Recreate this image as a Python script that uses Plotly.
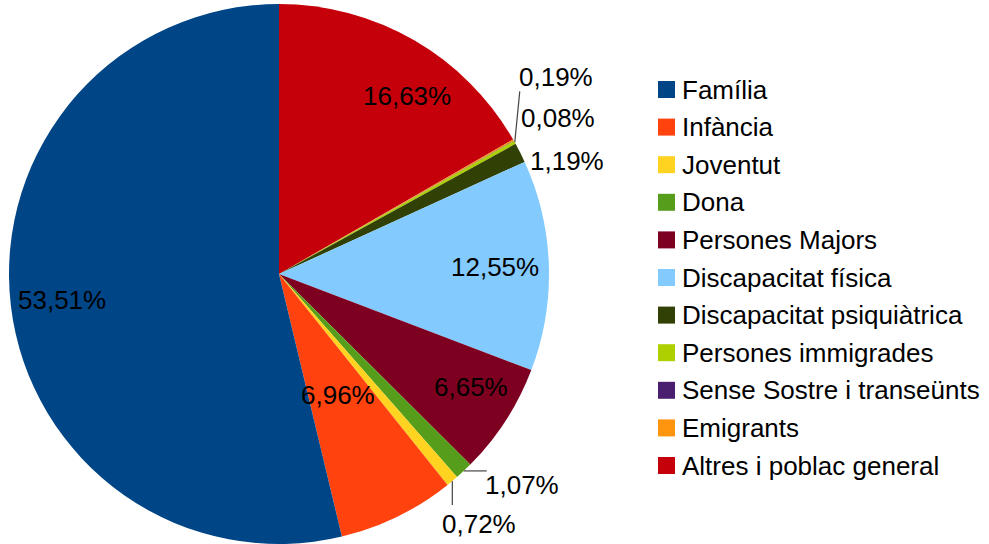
import math
import plotly.graph_objects as go

# ---- data ----
categories = ["Família", "Infància", "Joventut", "Dona", "Persones Majors",
              "Discapacitat física", "Discapacitat psiquiàtrica", "Persones immigrades",
              "Sense Sostre i transeünts", "Emigrants", "Altres i poblac general"]
values = [53.51, 6.96, 0.72, 1.07, 6.65, 12.55, 1.19, 0.19, 0.02, 0.08, 16.63]
show_label = [True, True, True, True, True, True, True, True, False, True, True]

colors = ["#004586", "#ff420e", "#ffd320", "#579d1c", "#7e0021", "#83caff",
          "#314004", "#aecf00", "#4b1f6f", "#ff950e", "#c5000b"]

# ---- layout constants (pixels) ----
W, H = 989, 544
CX, CY, R = 279, 274, 270
FONT = "Liberation Sans, Arial, sans-serif"
FS = 26

# label style per slice: (radius factor, dx, dy, leader end offset or None)
label_style = [
    (0.81, 0, 0, None),
    (0.50, 0, 0, None),
    (1.0, 27, 43, (0, 24)),     # Joventut, leader down
    (1.0, 58, 14, (23, 0)),     # Dona, leader right
    (0.81, 8, -6, None),
    (0.80, 0, 0, None),
    (1.0, 47, 8, None),
    (1.0, 41, -65, (5, -51)),   # immigrades, leader up
    (1.0, 0, 0, None),
    (1.0, 45, -22, None),       # Emigrants
    (0.81, 18, 11, None),
]

def px2paper(x, y):
    return x / W, 1 - y / H

fig = go.Figure()
# reference runs clockwise from 12 o'clock starting with the last category
fig.add_trace(go.Pie(
    labels=categories[::-1], values=values[::-1], sort=False, direction="clockwise",
    rotation=0, marker=dict(colors=colors[::-1], line=dict(width=0)),
    textinfo="none", showlegend=False,
    domain=dict(x=[(CX - R) / W, (CX + R) / W], y=[0, 1 - (CY - R) / H]),
))

total = sum(values)
annotations = []
shapes = []
cum = 0.0
for i, v in enumerate(values):
    mid = (cum + v / 2) / total
    cum += v
    if not show_label[i]:
        continue
    th = 2 * math.pi * mid
    rf, dx, dy, lead = label_style[i]
    rx = CX - rf * R * math.sin(th)
    ry = CY - rf * R * math.cos(th)
    txt = f"{v:.2f}".replace(".", ",") + "%"
    if lead is not None:
        rimx = CX - R * math.sin(th)
        rimy = CY - R * math.cos(th)
        x0, y0 = px2paper(rimx, rimy)
        x1, y1 = px2paper(rimx + lead[0], rimy + lead[1])
        shapes.append(dict(type="line", xref="paper", yref="paper", x0=x0, y0=y0,
                           x1=x1, y1=y1, line=dict(color="#444444", width=1.2)))
    ax, ay = px2paper(rx + dx, ry + dy)
    annotations.append(dict(x=ax, y=ay, xref="paper", yref="paper", text=txt,
                            showarrow=False, xanchor="center", yanchor="middle",
                            font=dict(family=FONT, size=FS, color="black")))

# ---- manual legend ----
LX, LY0, LSTEP, SQ = 658, 89.5, 37.6, 17
for i, (name, c) in enumerate(zip(categories, colors)):
    yc = LY0 + i * LSTEP
    x0, y0 = px2paper(LX, yc + SQ / 2)
    x1, y1 = px2paper(LX + SQ, yc - SQ / 2)
    shapes.append(dict(type="rect", xref="paper", yref="paper", x0=x0, y0=y0,
                       x1=x1, y1=y1, fillcolor=c, line=dict(width=0)))
    tx, ty = px2paper(LX + 22, yc)
    annotations.append(dict(x=tx, y=ty, xref="paper", yref="paper", text=name,
                            showarrow=False, xanchor="left", yanchor="middle",
                            font=dict(family=FONT, size=FS, color="black")))

fig.update_layout(
    width=W, height=H, margin=dict(l=0, r=0, t=0, b=0),
    paper_bgcolor="white", plot_bgcolor="white",
    annotations=annotations, shapes=shapes,
)
fig.write_html("out.html", config={"displayModeBar": False},
               post_script="document.body.style.margin='0';document.body.style.padding='0';")
